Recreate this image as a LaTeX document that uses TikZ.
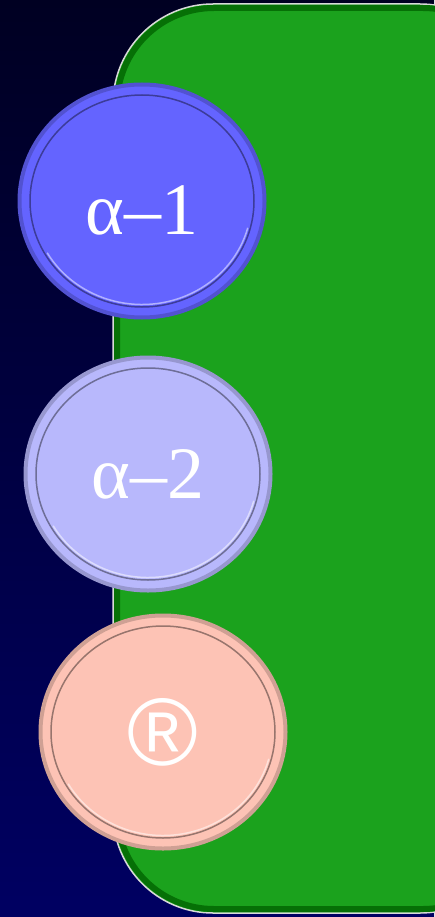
\documentclass[tikz,border=0pt]{standalone}
\usepackage{fontspec}
\setmainfont{Liberation Serif}
\newfontfamily\marksans{Liberation Sans}
\usetikzlibrary{shapes.geometric}
\definecolor{NightTop}{HTML}{000022}
\definecolor{NightBottom}{HTML}{000062}
\definecolor{PanelGreen}{HTML}{1BA21D}
\definecolor{PanelEdge}{HTML}{067006}
\definecolor{DiscBlue}{HTML}{6464FF}
\definecolor{DiscLilac}{HTML}{B8B8FC}
\definecolor{DiscPeach}{HTML}{FDC3B5}

\begin{document}
\begin{tikzpicture}[x=1pt,y=-1pt,
    disc/.style={ellipse,minimum width=245pt,minimum height=233pt,
                 inner sep=0pt,line width=4pt,text=white,
                 font=\fontsize{74}{74}\selectfont}]
  \useasboundingbox (0,0) rectangle (434,917);
  \shade[top color=NightTop,bottom color=NightBottom] (0,0) rectangle (434,917);

  % green panel behind the discs, runs off the right side
  \path[fill=PanelGreen,draw=white!70!gray,line width=1.5pt,rounded corners=100pt]
    (113,4) rectangle (520,913);
  \draw[PanelEdge,line width=6pt,rounded corners=97pt]
    (117,8) rectangle (520,909);

  % three bevelled discs
  \foreach \n/\x/\y/\c/\t in {alphaone/142/201/DiscBlue/{\raisebox{-9pt}[\height][\depth]{α–1}},
      alphatwo/148/474/DiscLilac/{α–2},
      registered/163/732/DiscPeach/{\marksans\fontsize{96}{96}\selectfont ®}}{%
    \node[disc,fill=\c,draw=\c!82!black] (\n) at (\x,\y) {\t};
    \draw[\c!60!black,line width=1.5pt] (\n.center) ellipse (112 and 106);
    \draw[white!50!\c,line width=1.5pt]
      (\n.center) ++(15:109.5 and 103.5) arc[start angle=15,end angle=150,
      x radius=109.5,y radius=103.5];
  }
\end{tikzpicture}
\end{document}
